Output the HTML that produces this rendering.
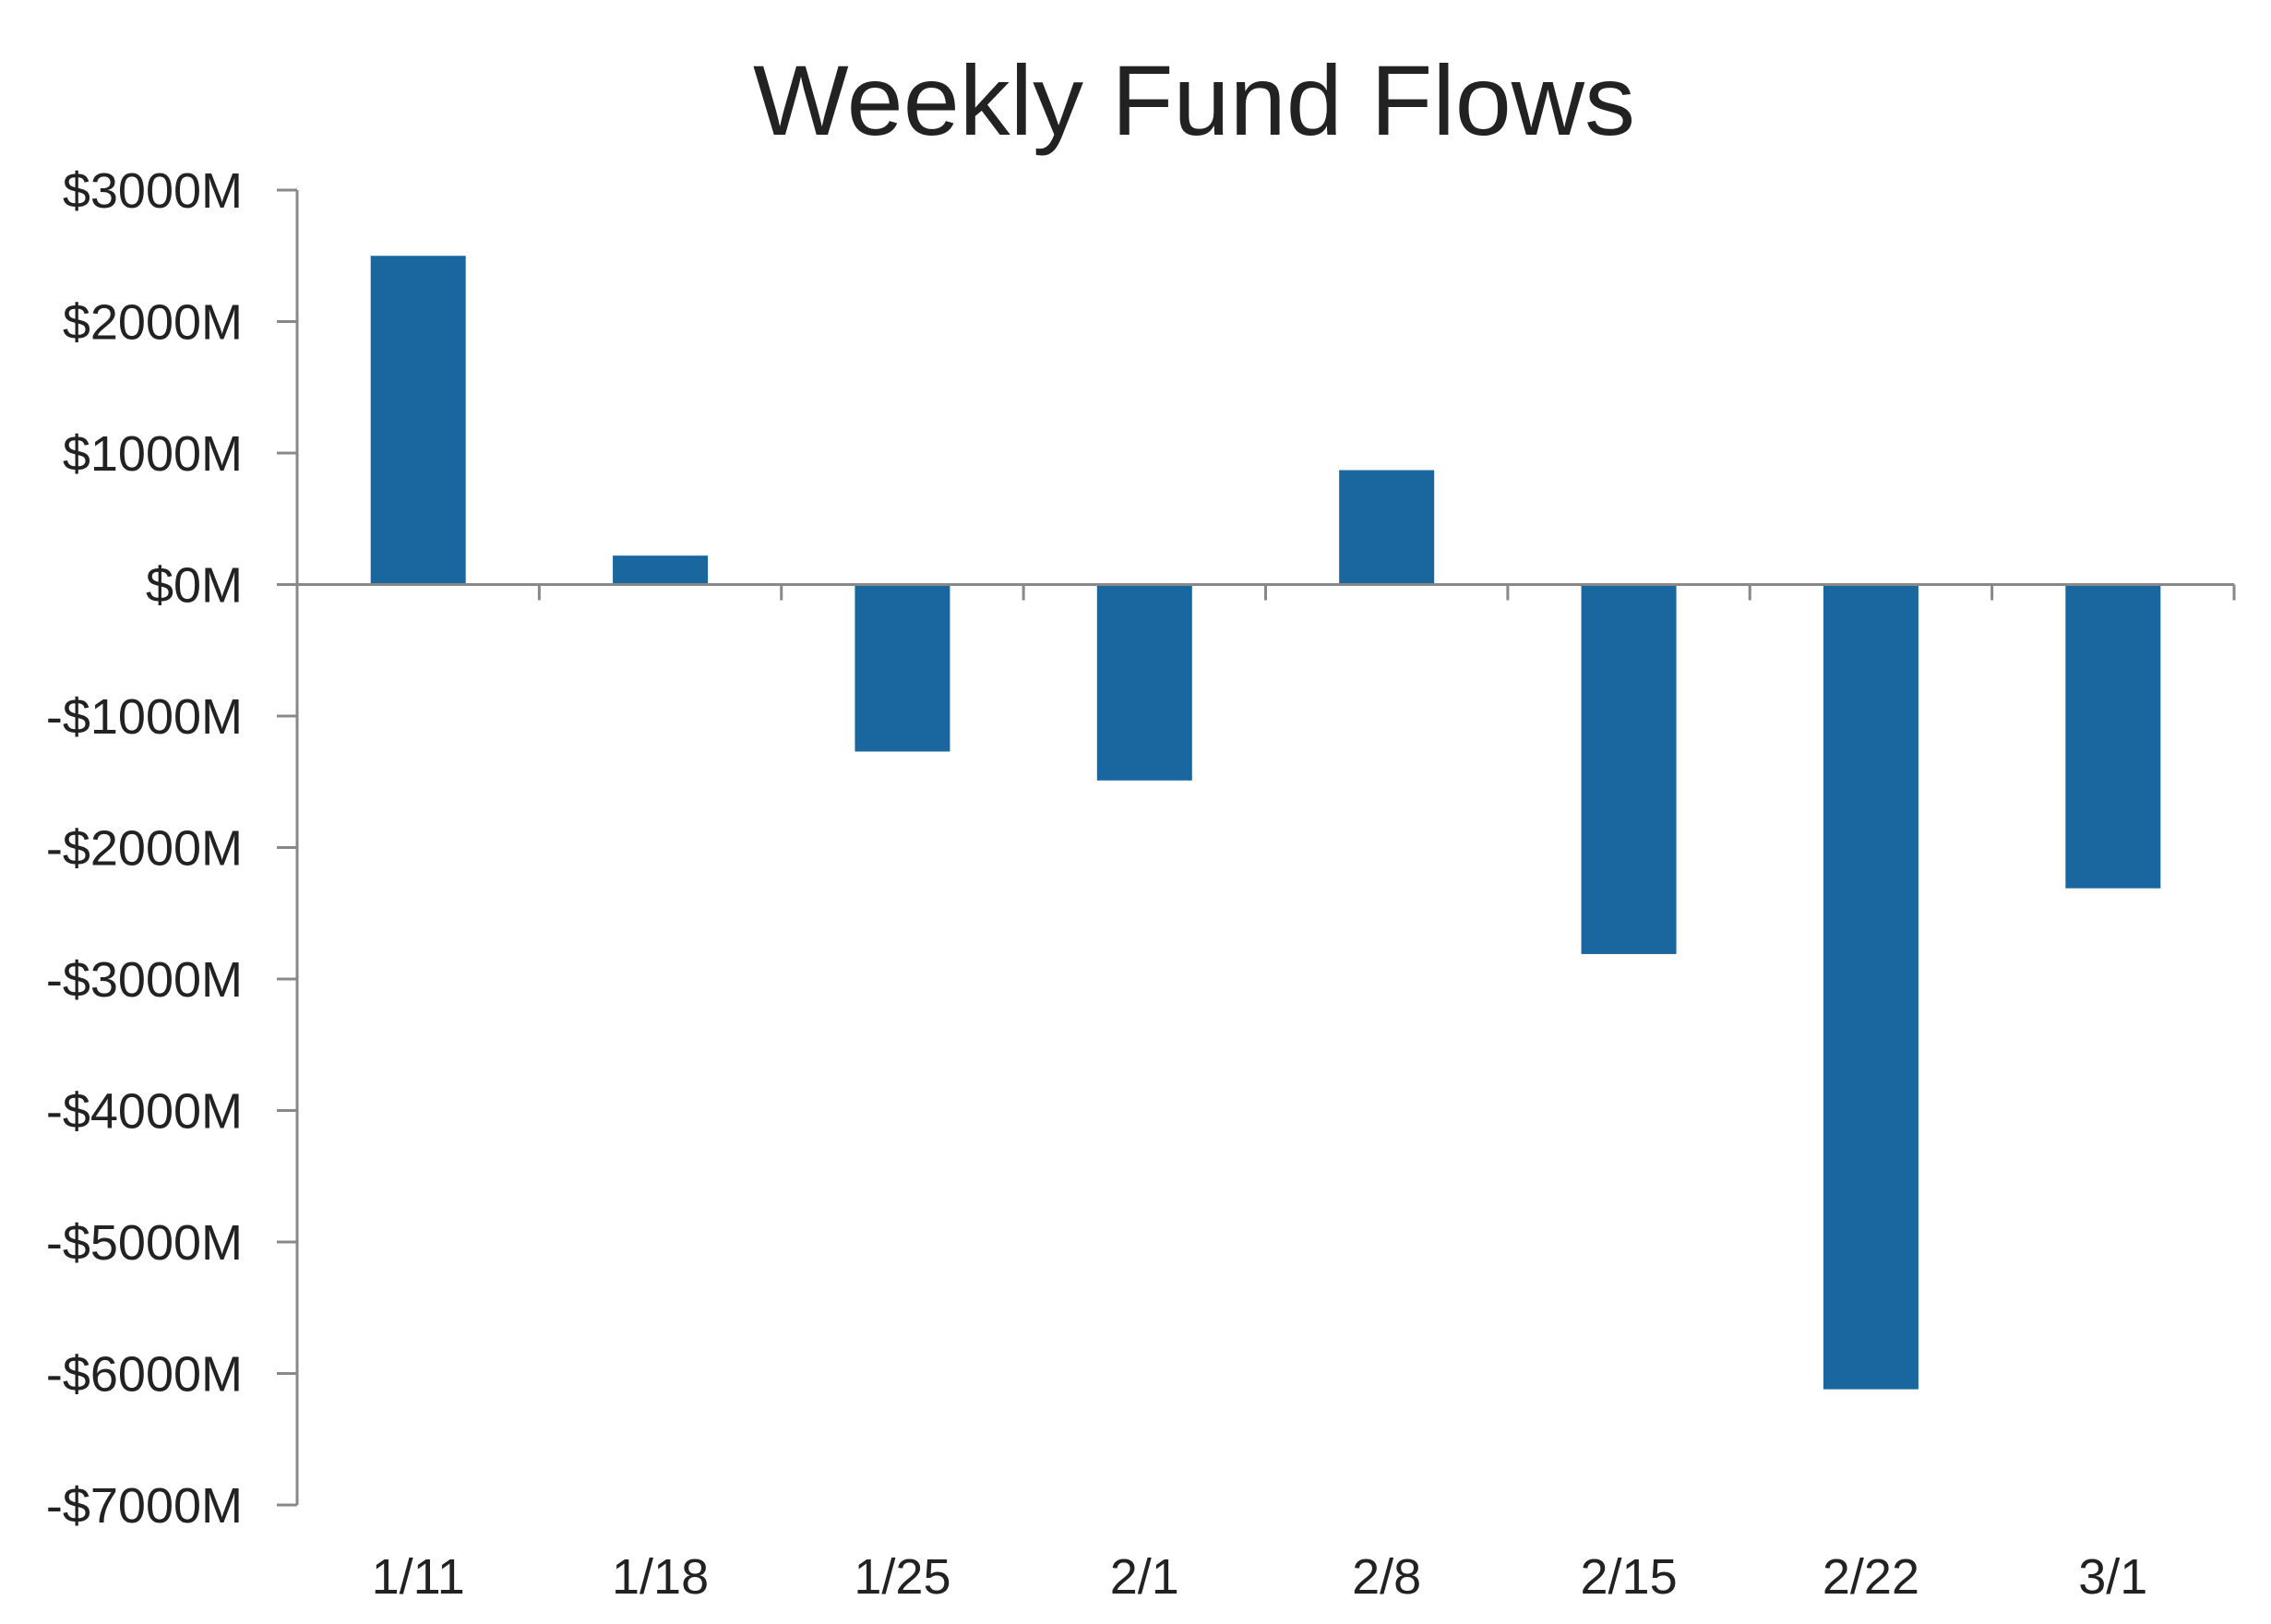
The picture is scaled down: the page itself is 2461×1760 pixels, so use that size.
<!DOCTYPE html>
<html><head><meta charset="utf-8"><style>html,body{margin:0;padding:0;background:#fff}svg{display:block}</style></head>
<body>
<svg id="chart" width="2461" height="1760" viewBox="0 0 2461 1760" xmlns="http://www.w3.org/2000/svg" font-family="Liberation Sans, sans-serif">
<text x="1294" y="146" font-size="108" text-anchor="middle" fill="#222" textLength="956" lengthAdjust="spacingAndGlyphs">Weekly Fund Flows</text>
<g id="grid"></g>
</svg>
<script>
const categories = ["1/11","1/18","1/25","2/1","2/8","2/15","2/22","3/1"];
const values = [2500, 220, -1270, -1490, 870, -2810, -6120, -2310];
const yTicks = [3000, 2000, 1000, 0, -1000, -2000, -3000, -4000, -5000, -6000, -7000];
const yTickLabels = ["$3000M","$2000M","$1000M","$0M","-$1000M","-$2000M","-$3000M","-$4000M","-$5000M","-$6000M","-$7000M"];

const NS = "http://www.w3.org/2000/svg";
const svg = document.getElementById('chart');
const plotL = 322, plotR = 2421, yTop = 206, yBot = 1631, vMax = 3000, vMin = -7000;
function y(v){ return yTop + (vMax - v) / (vMax - vMin) * (yBot - yTop); }
const band = (plotR - plotL) / categories.length;
function xc(i){ return plotL + band * (i + 0.5); }
const barW = 103;
function mk(tag, attrs){ const e = document.createElementNS(NS, tag); for (const k in attrs) e.setAttribute(k, attrs[k]); svg.appendChild(e); return e; }

// bars
values.forEach((v, i) => {
  const r = mk('rect', {x: xc(i) - barW/2, y: Math.min(y(v), y(0)), width: barW, height: Math.abs(y(v) - y(0)), fill: '#1a67a0'});
  
  
});

// y axis
const ya = mk('line', {x1: plotL, y1: yTop, x2: plotL, y2: yBot, stroke: '#888', 'stroke-width': 3});


yTicks.forEach((t, i) => {
  const tk = mk('line', {x1: plotL - 22, y1: y(t), x2: plotL, y2: y(t), stroke: '#888', 'stroke-width': 3});
  
  
  const tx = mk('text', {x: 263, y: y(t) + 19, 'font-size': 54, 'text-anchor': 'end', fill: '#222'});
  tx.textContent = yTickLabels[i];
  
  
});

// x axis at zero
const xa = mk('line', {x1: plotL, y1: y(0), x2: plotR, y2: y(0), stroke: '#888', 'stroke-width': 3});


for (let i = 1; i <= categories.length; i++) {
  const tk = mk('line', {x1: plotL + band*i, y1: y(0), x2: plotL + band*i, y2: y(0) + 17, stroke: '#888', 'stroke-width': 3});
  
  
}
categories.forEach((c, i) => {
  const tx = mk('text', {x: xc(i), y: 1727, 'font-size': 54, 'text-anchor': 'middle', fill: '#222'});
  tx.textContent = c;
  
  
});
</script>
</body></html>
